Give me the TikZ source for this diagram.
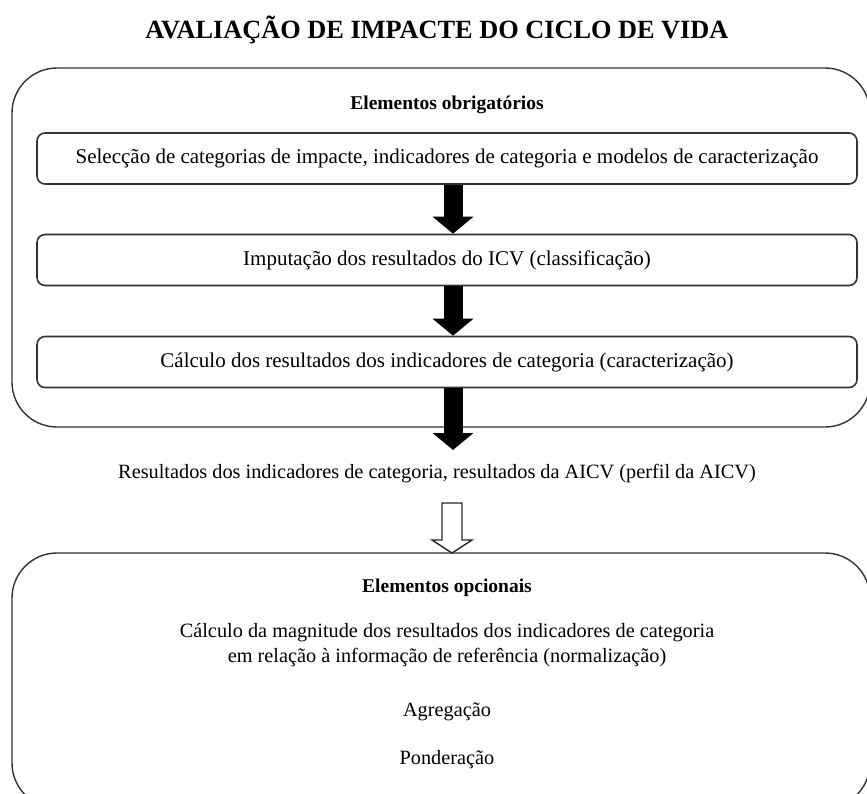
\documentclass[tikz,border=0pt]{standalone}
\usepackage{fontspec}
\setmainfont{Liberation Serif}
\usetikzlibrary{arrows.meta,calc}
\begin{document}
\begin{tikzpicture}[x=1pt,y=-1pt,
  outerbox/.style={draw=black!80,line width=1.4pt,rounded corners=45pt,inner sep=0pt},
  innerbox/.style={draw=black!80,line width=1.6pt,rounded corners=8pt,minimum width=820pt,minimum height=51pt,inner sep=0pt,font=\fontsize{21}{25}\selectfont},
  plain/.style={inner sep=0pt,font=\fontsize{20.3}{24}\selectfont,align=center},
  heading/.style={inner sep=0pt,font=\fontsize{19.5}{23}\selectfont\bfseries},
  solidarrow/.style={line width=19pt,black,-{Triangle[width=40pt,length=17pt]}},
  hollowarrow/.style={draw=black!85,line width=1.4pt,fill=white,line join=miter}
]
\useasboundingbox (0,0) rectangle (867,793);
\clip (0,0) rectangle (867,793);
\node[inner sep=0pt,font=\fontsize{26.3}{31}\selectfont\bfseries] (title) at (437,30) {AVALIAÇÃO DE IMPACTE DO CICLO DE VIDA};
% top outer box
\draw[outerbox] (12,68) rectangle (870,427);
\node[heading] (h1) at (447,105) {Elementos obrigatórios};
\node[innerbox] (b1) at (447,158.5) {Selecção de categorias de impacte, indicadores de categoria e modelos de caracterização};
\node[innerbox] (b2) at (447,260) {Imputação dos resultados do ICV (classificação)};
\node[innerbox] (b3) at (447,362) {Cálculo dos resultados dos indicadores de categoria (caracterização)};
\coordinate (ax) at (453,0);
\node[plain] (res) at (437,474) {Resultados dos indicadores de categoria, resultados da AICV (perfil da AICV)};
\coordinate (a3end) at (453,450);
\draw[solidarrow] (b1.south -| ax) -- (b2.north -| ax);
\draw[solidarrow] (b2.south -| ax) -- (b3.north -| ax);
\draw[solidarrow] (b3.south -| ax) -- (a3end);
% bottom outer box
\draw[outerbox] (12,553) rectangle (870,808);
\coordinate (opt) at (452,553);
\draw[hollowarrow] ($(opt)+(-10,-50)$) -- ($(opt)+(10,-50)$) -- ($(opt)+(10,-13)$) -- ($(opt)+(20,-13)$) -- (opt) -- ($(opt)+(-20,-13)$) -- ($(opt)+(-10,-13)$) -- cycle;
\node[heading] (h2) at (447,588) {Elementos opcionais};
\node[plain] (norm) at (447,645) {Cálculo da magnitude dos resultados dos indicadores de categoria\\[1pt] em relação à informação de referência (normalização)};
\node[plain] (agr) at (447,712) {Agregação};
\node[plain] (pond) at (447,760) {Ponderação};
\end{tikzpicture}
\end{document}
